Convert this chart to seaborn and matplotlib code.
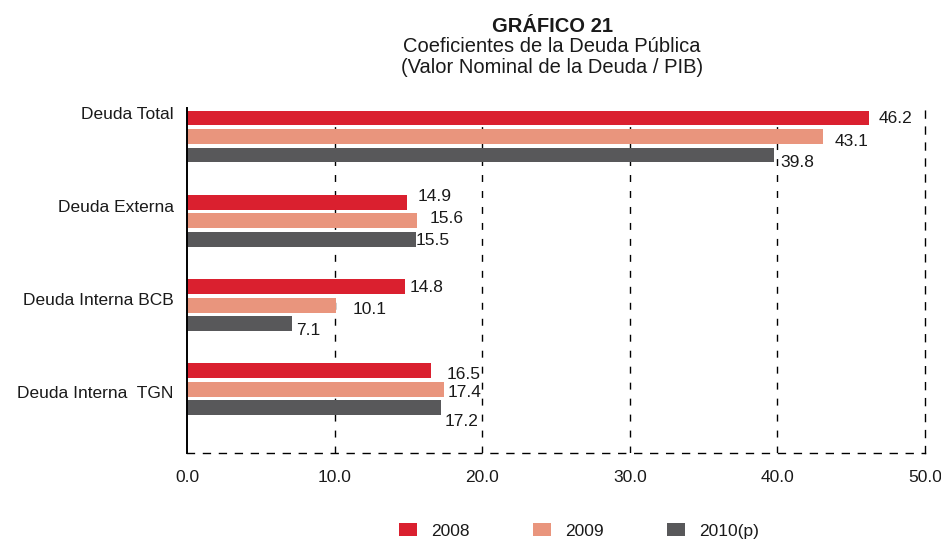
import numpy as np
import pandas as pd
import matplotlib
matplotlib.use("Agg")
import matplotlib.pyplot as plt
from matplotlib.patches import Patch
import seaborn as sns

# Datos del gráfico
categorias = ["Deuda Total", "Deuda Externa", "Deuda Interna BCB", "Deuda Interna  TGN"]
anios = ["2008", "2009", "2010(p)"]
valores_2008 = [46.2, 14.9, 14.8, 16.5]
valores_2009 = [43.1, 15.6, 10.1, 17.4]
valores_2010 = [39.8, 15.5, 7.1, 17.2]
ticks_x = [0, 10, 20, 30, 40, 50]

colores = ["#DA202F", "#E9957D", "#58585A"]

# desplazamiento (px) de cada etiqueta respecto al extremo de su barra
desp_x = [[10, 11, 6], [11, 12, 0], [4, 17, 4], [16, 4, 4]]
desp_y = [[0, 5, 8], [-6, -2, 1], [1, 4, 7], [4, 3, 14]]
# posicion vertical de los nombres de categoria
pos_etiquetas = [-0.28, 0.82, 1.93, 3.03]

df = pd.DataFrame({
    "categoria": categorias * 3,
    "anio": np.repeat(anios, len(categorias)),
    "valor": valores_2008 + valores_2009 + valores_2010,
})

sns.set_theme(style="white")
plt.rcParams["font.family"] = ["Liberation Sans", "DejaVu Sans"]
plt.rcParams["text.color"] = "#1a1a1a"

fig = plt.figure(figsize=(9.41, 5.40), dpi=100)
ax = fig.add_axes([0.1987, 0.1611, 0.7843, 0.6389])

sns.barplot(data=df, x="valor", y="categoria", hue="anio", order=categorias,
            hue_order=anios, palette=colores, orient="h", width=0.658, gap=0.19,
            saturation=1, legend=False, errorbar=None, linewidth=0,
            edgecolor="none", ax=ax)

ax.set_xlim(0, 50)
ax.set_ylim(3.754, -0.338)

# etiquetas de valores
for j, cont in enumerate(ax.containers):
    for i, barra in enumerate(cont):
        v = barra.get_width()
        y = barra.get_y() + barra.get_height() / 2
        ax.annotate(f"{v:.1f}", xy=(v, y), xytext=(desp_x[i][j], -desp_y[i][j]),
                    textcoords="offset pixels", ha="left", va="center",
                    fontsize=12.5, color="#1a1a1a")

# ejes y cuadricula
guion = (0, (5, 6.5))
ax.spines["top"].set_visible(False)
ax.spines["left"].set_color("black")
ax.spines["left"].set_linewidth(1.4)
for lado in ["right", "bottom"]:
    ax.spines[lado].set_color("black")
    ax.spines[lado].set_linewidth(1)
    ax.spines[lado].set_linestyle(guion)

ax.set_xticks(ticks_x)
ax.set_xticklabels([f"{t:.1f}" for t in ticks_x])
ax.xaxis.grid(True, color="black", linestyle=guion, linewidth=1)
ax.yaxis.grid(False)
ax.set_axisbelow(True)
gl = ax.get_xgridlines()
gl[0].set_visible(False)
gl[-1].set_visible(False)

ax.set_yticks(pos_etiquetas, categorias)
ax.tick_params(axis="x", length=0, pad=12, labelsize=12.5, labelcolor="#1a1a1a")
ax.tick_params(axis="y", length=0, pad=9.5, labelsize=12.5, labelcolor="#1a1a1a")
ax.set_xlabel("")
ax.set_ylabel("")

# titulos
cx = 552 / 941
fig.text(cx, 1 - 32 / 540, "GRÁFICO 21", ha="center", va="baseline",
         fontsize=14.5, fontweight="bold")
fig.text(cx, 1 - 52 / 540, "Coeficientes de la Deuda Pública", ha="center",
         va="baseline", fontsize=14.5)
fig.text(cx, 1 - 73 / 540, "(Valor Nominal de la Deuda / PIB)", ha="center",
         va="baseline", fontsize=14.5)

# leyenda
handles = [Patch(facecolor=c, edgecolor="none") for c in colores]
fig.legend(handles, anios, loc="center", bbox_to_anchor=(579 / 941, 1 - 531 / 540),
           ncol=3, frameon=False, fontsize=12.5, handlelength=1.0, handleheight=0.7,
           handletextpad=0.8, columnspacing=3.7, borderpad=0, borderaxespad=0)

fig.savefig("out.png", dpi=100)
